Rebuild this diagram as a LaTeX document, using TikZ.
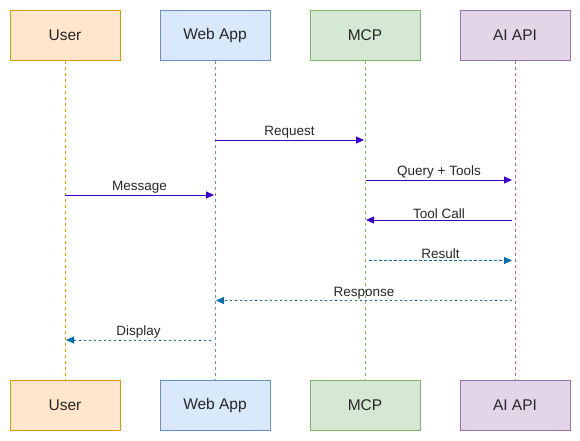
\documentclass[tikz,border=0pt]{standalone}
\usepackage{fontspec}
\setmainfont{Liberation Sans}
\usetikzlibrary{arrows.meta}
\definecolor{uFill}{HTML}{FFE6CC}\definecolor{uLine}{HTML}{D79B00}
\definecolor{wFill}{HTML}{DAE8FC}\definecolor{wLine}{HTML}{6C8EBF}
\definecolor{mFill}{HTML}{D5E8D4}\definecolor{mLine}{HTML}{82B366}
\definecolor{aFill}{HTML}{E1D5E7}\definecolor{aLine}{HTML}{9673A6}
\definecolor{callC}{HTML}{3700CC}
\definecolor{retC}{HTML}{006EAF}
\begin{document}
\begin{tikzpicture}[x=1pt,y=-1pt,
  actor/.style={draw, line width=1pt, minimum width=110pt, minimum height=50pt, inner sep=0pt, font=\fontsize{15.5}{18}\selectfont, text=black!85},
  life/.style={line width=0.6pt, dash pattern=on 3pt off 3pt},
  call/.style={draw=callC, line width=1pt, -{Triangle[length=8pt,width=7pt]}},
  ret/.style={draw=retC, line width=1pt, dash pattern=on 2.5pt off 2.5pt, -{Triangle[length=8pt,width=7pt]}},
  lbl/.style={font=\fontsize{13.5}{16}\selectfont, text=black!85, inner sep=1pt, above=0pt}]
\useasboundingbox (0,0) rectangle (580,440);
\node[actor, fill=uFill, draw=uLine] (u1) at (65,35.5) {User};
\node[actor, fill=wFill, draw=wLine] (w1) at (215,35.5) {Web App};
\node[actor, fill=mFill, draw=mLine] (m1) at (365,35.5) {MCP};
\node[actor, fill=aFill, draw=aLine] (a1) at (515,35.5) {AI API};
\node[actor, fill=uFill, draw=uLine] (u2) at (65,405) {User};
\node[actor, fill=wFill, draw=wLine] (w2) at (215,405) {Web App};
\node[actor, fill=mFill, draw=mLine] (m2) at (365,405) {MCP};
\node[actor, fill=aFill, draw=aLine] (a2) at (515,405) {AI API};
\draw[life, uLine] (u1.south) -- (u2.north);
\draw[life, wLine] (w1.south) -- (w2.north);
\draw[life, mLine] (m1.south) -- (m2.north);
\draw[life, aLine] (a1.south) -- (a2.north);
% messages
\coordinate (rq1) at (215,140); \coordinate (rq2) at (364,140);
\draw[call] (rq1) -- node[lbl] {Request} (rq2);
\coordinate (qt1) at (366,180); \coordinate (qt2) at (512,180);
\draw[call] (qt1) -- node[lbl] {Query + Tools} (qt2);
\coordinate (ms1) at (65,195); \coordinate (ms2) at (214,195);
\draw[call] (ms1) -- node[lbl] {Message} (ms2);
\coordinate (tc1) at (512,220); \coordinate (tc2) at (366,220);
\draw[call] (tc1) -- node[lbl] {Tool Call} (tc2);
\coordinate (rs1) at (369,260.5); \coordinate (rs2) at (512,260.5);
\draw[ret] (rs1) -- node[lbl] {Result} (rs2);
\coordinate (rp1) at (512,300.5); \coordinate (rp2) at (216,300.5);
\draw[ret] (rp1) -- node[lbl] {Response} (rp2);
\coordinate (dp1) at (211,340); \coordinate (dp2) at (66,340);
\draw[ret] (dp1) -- node[lbl] {Display} (dp2);
\end{tikzpicture}
\end{document}
